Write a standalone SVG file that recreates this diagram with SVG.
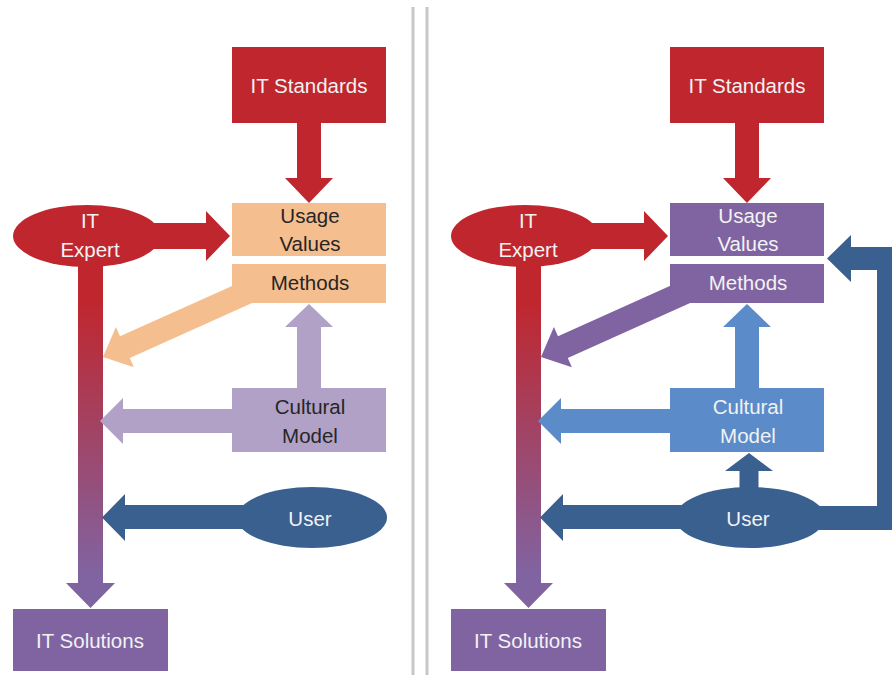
<svg xmlns="http://www.w3.org/2000/svg" width="892" height="675" viewBox="0 0 892 675">
  <style>
    .red { fill: #C0262D; }
    .peach { fill: #F5BE8F; }
    .lav { fill: #B1A1C7; }
    .purple { fill: #8064A2; }
    .dblue { fill: #3A6090; }
    .mblue { fill: #5B8BC8; }
    .grad { fill: url(#shaftGrad); }
    .divider { stroke: #C8C8C8; stroke-width: 3; fill: none; }
    text { font-family: "Liberation Sans", Arial, sans-serif; font-size: 20.5px; text-anchor: middle; }
    .light { fill: #F2F2F2; }
    .dark { fill: #262626; }
  </style>
  <defs>
    <linearGradient id="shaftGrad" gradientUnits="userSpaceOnUse" x1="0" y1="300" x2="0" y2="575">
      <stop offset="0" stop-color="#C0262D"/>
      <stop offset="1" stop-color="#8064A2"/>
    </linearGradient>
  </defs>

  <rect width="892" height="675" fill="#FFFFFF"/>

  <!-- panel separator -->
  <line class="divider" x1="413" y1="7" x2="413" y2="675"/>
  <line class="divider" x1="427" y1="7" x2="427" y2="675"/>

  <!-- block-arrow connectors, drawn beneath the nodes -->
  <g id="connectors">
    <!-- left panel -->
    <g id="left-connectors">
      <polygon class="red" points="297,120 321,120 321,178 333,178 309,203 285,178 297,178"/>
      <polygon class="red" points="140,223 206,223 206,211 230,236 206,261 206,249 140,249"/>
      <polygon class="grad" points="78,255 103,255 103,583 115,583 90.5,608 66,583 78,583"/>
      <polygon class="peach" points="103,357 133.9,367.3 129.8,358.1 266.6,296.6 256.8,274.8 120,336.3 115.9,327.1"/>
      <polygon class="lav" points="297,392 321,392 321,327 333,327 309,304 285,327 297,327"/>
      <polygon class="lav" points="240,409 123,409 123,398 100,421 123,444 123,433 240,433"/>
      <polygon class="dblue" points="260,505 125,505 125,494 102,517.5 125,541 125,529 260,529"/>
    </g>
    <!-- right panel -->
    <g id="right-connectors">
      <polygon class="red" points="735,120 759,120 759,178 771,178 747,203 723,178 735,178"/>
      <polygon class="red" points="578,223 644,223 644,211 668,236 644,261 644,249 578,249"/>
      <polygon class="grad" points="516,255 541,255 541,583 553,583 528.5,608 504,583 516,583"/>
      <polygon class="purple" points="541,357 571.9,367.3 567.8,358.1 704.6,296.6 694.8,274.8 558,336.3 553.9,327.1"/>
      <polygon class="mblue" points="735,392 759,392 759,327 771,327 747,304 723,327 735,327"/>
      <polygon class="mblue" points="678,409 561,409 561,398 538,421 561,444 561,433 678,433"/>
      <polygon class="dblue" points="698,505 563,505 563,494 540,517.5 563,541 563,529 698,529"/>
      <polygon class="dblue" points="739.5,495 758.5,495 758.5,471 773,471 749,453 725,471 739.5,471"/>
      <polygon class="dblue" points="800,506 877,506 877,270 851,270 851,282 827,258.5 851,235 851,247 901,247 901,530 800,530"/>
    </g>
  </g>

  <!-- left panel nodes -->
  <g id="l-it-standards">
    <rect class="red" x="232" y="47" width="154" height="76"/>
    <text class="light" x="309" y="93">IT Standards</text>
  </g>
  <g id="l-usage-values">
    <rect class="peach" x="232" y="203" width="154" height="53"/>
    <text class="dark" x="310" y="223">Usage</text>
    <text class="dark" x="310" y="251">Values</text>
  </g>
  <g id="l-methods">
    <rect class="peach" x="232" y="264" width="154" height="39"/>
    <text class="dark" x="310" y="290">Methods</text>
  </g>
  <g id="l-it-expert">
    <ellipse class="red" cx="87" cy="236" rx="74" ry="31"/>
    <text class="light" x="90" y="228">IT</text>
    <text class="light" x="90" y="257">Expert</text>
  </g>
  <g id="l-cultural-model">
    <rect class="lav" x="232" y="388" width="154" height="64"/>
    <text class="dark" x="310" y="414">Cultural</text>
    <text class="dark" x="310" y="443">Model</text>
  </g>
  <g id="l-user">
    <ellipse class="dblue" cx="312" cy="517.5" rx="75" ry="30.5"/>
    <text class="light" x="310" y="526">User</text>
  </g>
  <g id="l-it-solutions">
    <rect class="purple" x="13" y="609" width="155" height="62"/>
    <text class="light" x="90" y="648">IT Solutions</text>
  </g>

  <!-- right panel nodes -->
  <g id="r-it-standards">
    <rect class="red" x="670" y="47" width="154" height="76"/>
    <text class="light" x="747" y="93">IT Standards</text>
  </g>
  <g id="r-usage-values">
    <rect class="purple" x="670" y="203" width="154" height="53"/>
    <text class="light" x="748" y="223">Usage</text>
    <text class="light" x="748" y="251">Values</text>
  </g>
  <g id="r-methods">
    <rect class="purple" x="670" y="264" width="154" height="39"/>
    <text class="light" x="748" y="290">Methods</text>
  </g>
  <g id="r-it-expert">
    <ellipse class="red" cx="525" cy="236" rx="74" ry="31"/>
    <text class="light" x="528" y="228">IT</text>
    <text class="light" x="528" y="257">Expert</text>
  </g>
  <g id="r-cultural-model">
    <rect class="mblue" x="670" y="388" width="154" height="64"/>
    <text class="light" x="748" y="414">Cultural</text>
    <text class="light" x="748" y="443">Model</text>
  </g>
  <g id="r-user">
    <ellipse class="dblue" cx="750" cy="517.5" rx="75" ry="30.5"/>
    <text class="light" x="748" y="526">User</text>
  </g>
  <g id="r-it-solutions">
    <rect class="purple" x="451" y="609" width="155" height="62"/>
    <text class="light" x="528" y="648">IT Solutions</text>
  </g>
</svg>
